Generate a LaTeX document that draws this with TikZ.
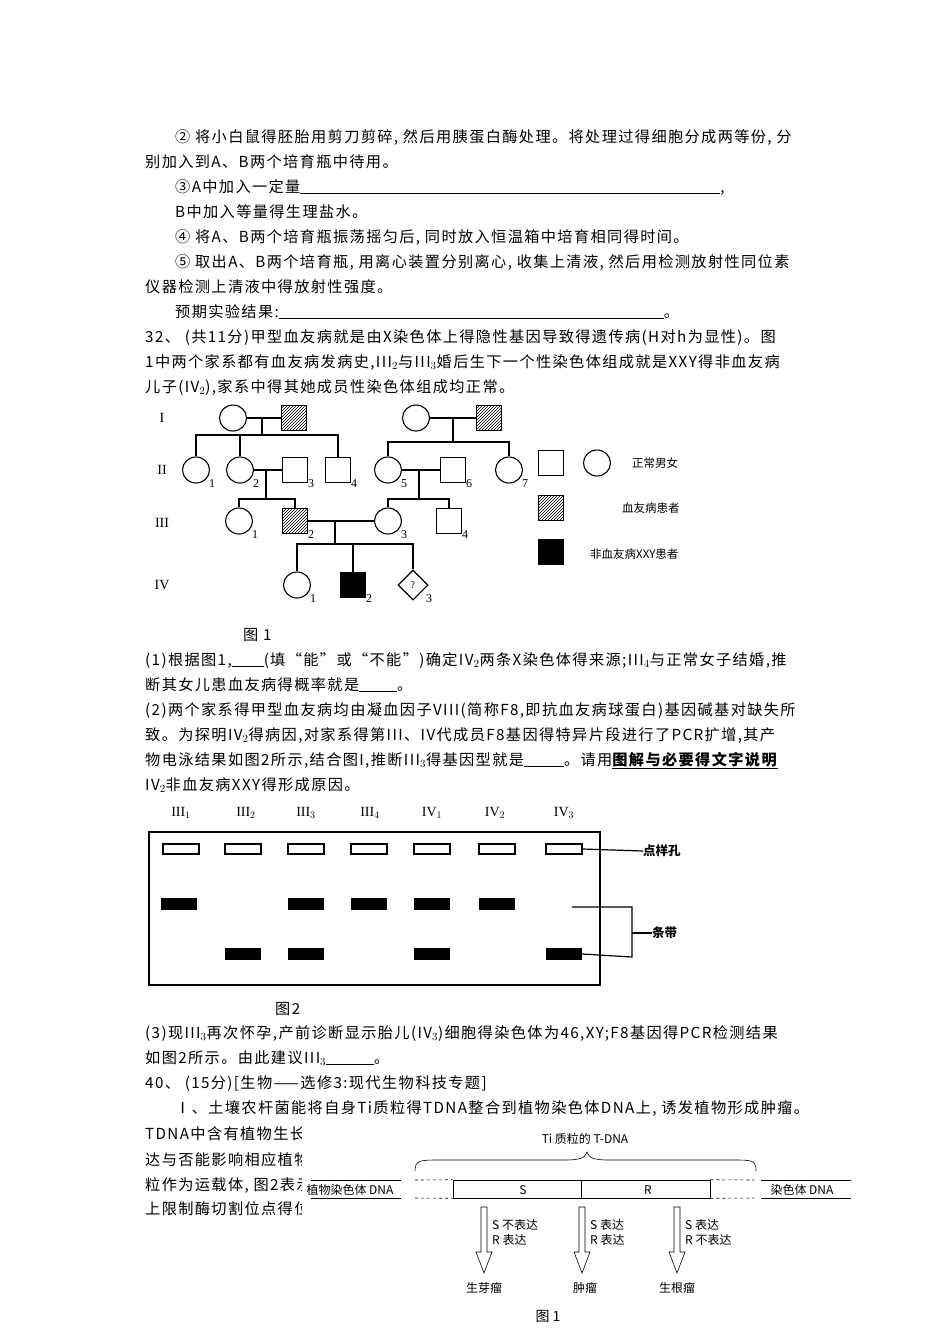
\documentclass[tikz,border=0pt]{standalone}
\usepackage{fontspec}
\setmainfont{Noto Sans CJK SC}
\newfontfamily\bodyf{Noto Sans CJK SC}[LetterSpace=9]
\newfontfamily\serifr{Liberation Serif}
\usetikzlibrary{patterns,shapes.geometric}
\newcommand\blank[1]{\rule[-2pt]{#1pt}{0.6pt}}
\begin{document}
\begin{tikzpicture}[x=1pt,y=-1pt,
  txt/.style={anchor=base west,inner sep=0pt,font=\bodyf\fontsize{15.2}{17}\selectfont},
  sm/.style={inner sep=0pt,font=\fontsize{11.5}{13}\selectfont},
  gen/.style={inner sep=0pt,font=\serifr\fontsize{14}{16}\selectfont},
  num/.style={inner sep=0pt,font=\serifr\fontsize{12}{14}\selectfont},
  fem/.style={draw,line width=1.1pt,ellipse,minimum width=27pt,minimum height=26pt,inner sep=0pt},
  mal/.style={draw,line width=1.1pt,rectangle,minimum size=25pt,inner sep=0pt},
  hat/.style={mal,pattern=north east lines},
  blk/.style={mal,fill=black},
  ped/.style={line width=1.1pt},
  gel/.style={line width=1.5pt},
  well/.style={draw,line width=1.3pt,minimum width=36pt,minimum height=10pt,inner sep=0pt},
  band/.style={fill=black,minimum width=36pt,minimum height=12pt,inner sep=0pt},
  hol/.style={draw,line width=0.6pt,fill=white}]
\useasboundingbox[fill=white] (0,0) rectangle (950,1344);
% ---- text ----
\node[txt] (l1) at (175,142) {② 将小白鼠得胚胎用剪刀剪碎, 然后用胰蛋白酶处理。将处理过得细胞分成两等份, 分};
\node[txt] (l2) at (145,167) {别加入到A、B两个培育瓶中待用。};
\node[txt] (l3) at (175,192) {③A中加入一定量\blank{420},};
\node[txt] (l4) at (175,217) {B中加入等量得生理盐水。};
\node[txt] (l5) at (175,242) {④ 将A、B两个培育瓶振荡摇匀后, 同时放入恒温箱中培育相同得时间。};
\node[txt] (l6) at (175,267) {⑤ 取出A、B两个培育瓶, 用离心装置分别离心, 收集上清液, 然后用检测放射性同位素};
\node[txt] (l7) at (145,292) {仪器检测上清液中得放射性强度。};
\node[txt] (l8) at (175,317) {预期实验结果:\blank{385}。};
\node[txt] (l9) at (145,342) {32、 (共11分)甲型血友病就是由X染色体上得隐性基因导致得遗传病(H对h为显性)。图};
\node[txt] (l10) at (145,367) {1中两个家系都有血友病发病史,III$_2$与III$_3$婚后生下一个性染色体组成就是XXY得非血友病};
\node[txt] (l11) at (145,392) {儿子(IV$_2$),家系中得其她成员性染色体组成均正常。};
\node[txt] (f1) at (243,640) {图 1};
\node[txt] (l12) at (145,665) {(1)根据图1,\blank{32}(填“能”或“不能”)确定IV$_2$两条X染色体得来源;III$_4$与正常女子结婚,推};
\node[txt] (l13) at (145,690) {断其女儿患血友病得概率就是\blank{38}。};
\node[txt] (l14) at (145,715) {(2)两个家系得甲型血友病均由凝血因子VIII(简称F8,即抗血友病球蛋白)基因碱基对缺失所};
\node[txt] (l15) at (145,740) {致。为探明IV$_2$得病因,对家系得第III、IV代成员F8基因得特异片段进行了PCR扩增,其产};
\node[txt] (l16) at (145,765) {物电泳结果如图2所示,结合图I,推断III$_3$得基因型就是\blank{40}。请用\underline{\textbf{图解与必要得文字说明}}};
\node[txt] (l17) at (145,790) {IV$_2$非血友病XXY得形成原因。};
\node[txt] (f2) at (275,1014) {图2};
\node[txt] (l18) at (145,1038) {(3)现III$_3$再次怀孕,产前诊断显示胎儿(IV$_3$)细胞得染色体为46,XY;F8基因得PCR检测结果};
\node[txt] (l19) at (145,1063) {如图2所示。由此建议III$_3$\blank{48}。};
\node[txt] (l20) at (145,1088) {40、 (15分)[生物——选修3:现代生物科技专题]};
\node[txt] (l21) at (175,1113) {Ⅰ、土壤农杆菌能将自身Ti质粒得TDNA整合到植物染色体DNA上, 诱发植物形成肿瘤。};
\node[txt] (l22) at (145,1139) {TDNA中含有植物生长素};
\node[txt] (l23) at (145,1165) {达与否能影响相应植物};
\node[txt] (l24) at (145,1190) {粒作为运载体, 图2表示};
\node[txt] (l25) at (145,1214) {上限制酶切割位点得位};
\fill[white] (302,1122) rectangle (950,1344);
% ---- pedigree ----
\node[gen] (gI) at (162,418) {I};
\node[gen] (gII) at (162,470) {II};
\node[gen] (gIII) at (162,523) {III};
\node[gen] (gIV) at (162,585) {IV};
\node[fem] (a1) at (233,418) {};
\node[hat] (a2) at (294,418) {};
\node[fem] (b1) at (416,418) {};
\node[hat] (b2) at (489,418) {};
\node[fem] (c1) at (196,470) {};
\node[fem] (c2) at (240,470) {};
\node[mal] (c3) at (295,470) {};
\node[mal] (c4) at (338,470) {};
\node[fem] (c5) at (388,470) {};
\node[mal] (c6) at (453,470) {};
\node[fem] (c7) at (509,470) {};
\node[fem] (d1) at (239,521) {};
\node[hat] (d2) at (295,521) {};
\node[fem] (d3) at (388,521) {};
\node[mal] (d4) at (449,521) {};
\node[fem] (e1) at (297,585) {};
\node[blk] (e2) at (353,585) {};
\node[draw,line width=1.1pt,diamond,minimum size=30pt,inner sep=0pt,font=\fontsize{9}{10}\selectfont] (e3) at (413,585) {?};
\foreach \n/\t in {c1/1,c2/2,c3/3,c4/4,c5/5,c6/6,c7/7,d1/1,d2/2,d3/3,d4/4,e1/1,e2/2,e3/3}
  \node[num] (n\n) at ([xshift=16pt,yshift=-14pt]\n.center) {\t};
\draw[ped] (a1) -- (a2);
\draw[ped] (b1) -- (b2);
\draw[ped] (c2) -- (c3);
\draw[ped] (c5) -- (c6);
\draw[ped] (d2) -- (d3);
\draw[ped] (262,418) -- (262,435);
\draw[ped] (c1.north) |- (262,435) -| (c4.north);
\draw[ped] (c2.north) -- (240,435);
\draw[ped] (453,418) -- (453,442);
\draw[ped] (c5.north) |- (453,442) -| (c7.north);
\draw[ped] (266,470) -- (266,499);
\draw[ped] (d1.north) |- (266,499) -| (d2.north);
\draw[ped] (419,470) -- (419,499);
\draw[ped] (d3.north) |- (419,499) -| (d4.north);
\draw[ped] (335,521) -- (335,544);
\draw[ped] (e1.north) |- (335,544) -| (e3.north);
\draw[ped] (e2.north) -- (353,544);
\node[mal] (k1) at (551,463) {};
\node[fem] (k2) at (597,463) {};
\node[hat] (k3) at (551,508) {};
\node[blk] (k4) at (551,552) {};
\node[sm,anchor=west] (k5) at (632,463) {正常男女};
\node[sm,anchor=west] (k6) at (622,508) {血友病患者};
\node[sm,anchor=west] (k7) at (590,554) {非血友病XXY患者};
% ---- gel ----
\draw[gel] (149,832) rectangle (600,985);
\foreach \x/\l [count=\i] in {181/III$_1$,246/III$_2$,306/III$_3$,370/III$_4$,432/IV$_1$,495/IV$_2$,564/IV$_3$}
  \node[gen] (lab\i) at (\x,813) {\l};
\foreach \x [count=\i] in {181,243,306,369,432,497,564}
  \node[well] (w\i) at (\x,849) {};
\foreach \x [count=\i] in {179,306,369,432,497}
  \node[band] (u\i) at (\x,904) {};
\foreach \x [count=\i] in {243,306,432,564}
  \node[band] (v\i) at (\x,954) {};
\node[sm,anchor=west,font=\bfseries\fontsize{12.5}{14}\selectfont] (dy) at (643,851) {点样孔};
\node[sm,anchor=west,font=\bfseries\fontsize{12.5}{14}\selectfont] (tb) at (652,933) {条带};
\draw[line width=1.2pt] (w7.east) -- (dy.west);
\coordinate (br1) at (572,907);
\draw[line width=1.2pt] (br1) -- (632,907) -- (632,957) -- (v4.east);
\draw[line width=1.2pt] (632,933) -- (tb.west);
% ---- T-DNA figure ----
\node[sm,font=\fontsize{12}{14}\selectfont] (ti) at (585,1139) {Ti 质粒的 T-DNA};
\draw[line width=0.6pt] (415,1171) .. controls (415,1160) and (420,1160) .. (440,1160) -- (565,1160) .. controls (580,1160) and (585,1158) .. (587,1152) .. controls (589,1158) and (594,1160) .. (609,1160) -- (733,1160) .. controls (752,1160) and (756,1160) .. (756,1171);
\node[draw,line width=0.6pt,minimum width=128pt,minimum height=18pt,inner sep=0pt] (sb) at (517,1189) {};
\node[draw,line width=0.6pt,minimum width=129pt,minimum height=18pt,inner sep=0pt] (rb) at (645.5,1189) {};
\node[sm,font=\fontsize{12}{14}\selectfont] (st) at (523,1190) {S};
\node[sm,font=\fontsize{12}{14}\selectfont] (rt) at (648,1190) {R};
\draw[line width=0.6pt] (311,1180) -- (401,1180) (311,1198) -- (401,1198);
\draw[line width=0.6pt] (761,1180) -- (851,1180) (761,1198) -- (851,1198);
\draw[line width=0.6pt,dashed] (415,1180) -- (sb.north west) (415,1198) -- (sb.south west);
\draw[line width=0.6pt,dashed] (rb.north east) -- (754,1180) (rb.south east) -- (754,1198);
\node[sm,fill=white,inner xsep=1pt,font=\fontsize{12}{14}\selectfont] (lt) at (350,1190) {植物染色体 DNA};
\node[sm,fill=white,inner xsep=1pt,font=\fontsize{12}{14}\selectfont] (rtt) at (802,1190) {染色体 DNA};
\foreach \x [count=\i] in {484,582,677}
  \draw[hol] (\x-3,1207) -- (\x+3,1207) -- (\x+3,1252) -- (\x+8,1252) -- (\x,1273) -- (\x-8,1252) -- (\x-3,1252) -- cycle;
\node[sm,anchor=west,align=left,font=\fontsize{12}{15}\selectfont] (s1) at (492,1232) {S 不表达\\R 表达};
\node[sm,anchor=west,align=left,font=\fontsize{12}{15}\selectfont] (s2) at (590,1232) {S 表达\\R 表达};
\node[sm,anchor=west,align=left,font=\fontsize{12}{15}\selectfont] (s3) at (685,1232) {S 表达\\R 不表达};
\node[sm,font=\fontsize{12}{14}\selectfont] (o1) at (484,1288) {生芽瘤};
\node[sm,font=\fontsize{12}{14}\selectfont] (o2) at (585,1288) {肿瘤};
\node[sm,font=\fontsize{12}{14}\selectfont] (o3) at (677,1288) {生根瘤};
\node[sm,font=\fontsize{14}{16}\selectfont] (f3) at (548,1316) {图 1};
\end{tikzpicture}
\end{document}
